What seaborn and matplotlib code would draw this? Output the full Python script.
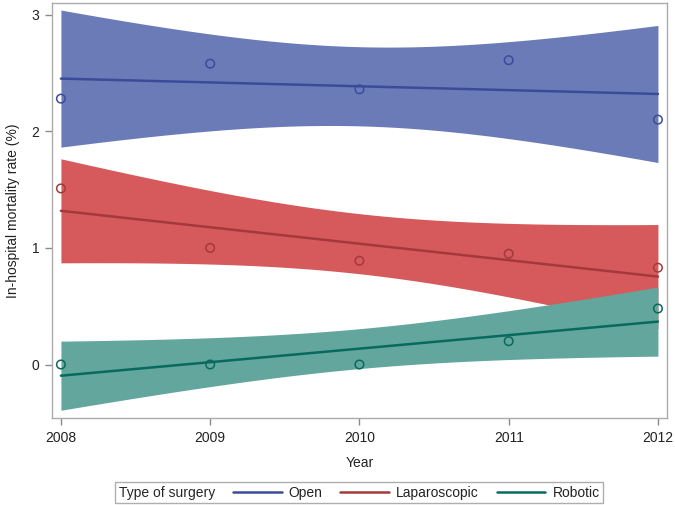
import numpy as np
import pandas as pd
import matplotlib
matplotlib.use("Agg")
import matplotlib.pyplot as plt
import seaborn as sns
from matplotlib.lines import Line2D

years = [2008, 2009, 2010, 2011, 2012]
open_rate = [2.28, 2.58, 2.36, 2.61, 2.10]
lap_rate = [1.51, 1.00, 0.89, 0.95, 0.83]
rob_rate = [0.00, 0.00, 0.00, 0.20, 0.48]
groups = ["Open", "Laparoscopic", "Robotic"]
fill_colors = ["#6B7BB8", "#D65A5C", "#62A69D"]
line_colors = ["#3A4C99", "#A5393A", "#086A5E"]
T975_DF3 = 3.1824  # t quantile, 95% CI with 3 residual df

sns.set_style("white")
plt.rcParams["font.family"] = ["Liberation Sans", "DejaVu Sans"]

fig = plt.figure(figsize=(6.75, 5.05), dpi=100)
ax = fig.add_axes([0.077, 0.172, 0.911, 0.822])

series = [open_rate, lap_rate, rob_rate]
xg = np.linspace(years[0], years[-1], 200)
fits = []
for ys in series:
    x = np.array(years, float)
    y = np.array(ys, float)
    b, a = np.polyfit(x, y, 1)
    yhat = a + b * x
    n = len(x)
    s = np.sqrt(np.sum((y - yhat) ** 2) / (n - 2))
    sxx = np.sum((x - x.mean()) ** 2)
    fit = a + b * xg
    hw = T975_DF3 * s * np.sqrt(1 / n + (xg - x.mean()) ** 2 / sxx)
    fits.append((fit, hw))

for (fit, hw), fc in zip(fits, fill_colors):
    ax.fill_between(xg, fit - hw, fit + hw, color=fc, lw=0, zorder=1)

for (fit, hw), lc, g in zip(fits, line_colors, groups):
    sns.lineplot(x=xg, y=fit, color=lc, lw=1.8, ax=ax, zorder=2, label=g)

for ys, lc in zip(series, line_colors):
    sns.scatterplot(x=years, y=ys, ax=ax, marker="o", s=38, facecolor="none",
                    edgecolor=lc, linewidth=1.1, zorder=3)

ax.set_xlim(2007.94, 2012.06)
ax.set_ylim(-0.46, 3.10)
ax.set_xticks(years)
ax.set_xticklabels([str(v) for v in years])
ax.set_yticks([0, 1, 2, 3])
ax.set_yticklabels(["0", "1", "2", "3"])
ax.set_xlabel("Year", fontsize=10, color="#222222", labelpad=8)
ax.set_ylabel("In-hospital mortality rate (%)", fontsize=10, color="#222222", labelpad=8)
for sp in ax.spines.values():
    sp.set_color("#ABABAB")
    sp.set_linewidth(1.0)
ax.tick_params(axis="both", which="major", direction="out", length=5, width=1,
               color="#8A8A8A", labelsize=10, labelcolor="#222222", pad=4)
ax.tick_params(bottom=True, left=True)
if ax.get_legend() is not None:
    ax.get_legend().remove()

handles = [Line2D([0], [0], color=c, lw=1.8) for c in line_colors]
leg = fig.legend(handles, groups, title="Type of surgery", ncol=3,
                 loc="lower center", bbox_to_anchor=(0.532, 0.004),
                 borderaxespad=0.0,
                 frameon=True, fancybox=False, fontsize=10, title_fontsize=10,
                 handlelength=3.5, handletextpad=0.5, columnspacing=0.7,
                 borderpad=0.25, edgecolor="#9A9A9A")
leg.get_frame().set_linewidth(1.0)
for t in leg.get_texts():
    t.set_color("#222222")
c = leg.get_children()[0]
title = c.get_children()[0]
hpack = c.get_children()[1]
c._children = [hpack]
hpack._children = [title] + hpack.get_children()
hpack.sep = 13

fig.savefig("out.png", dpi=100)
